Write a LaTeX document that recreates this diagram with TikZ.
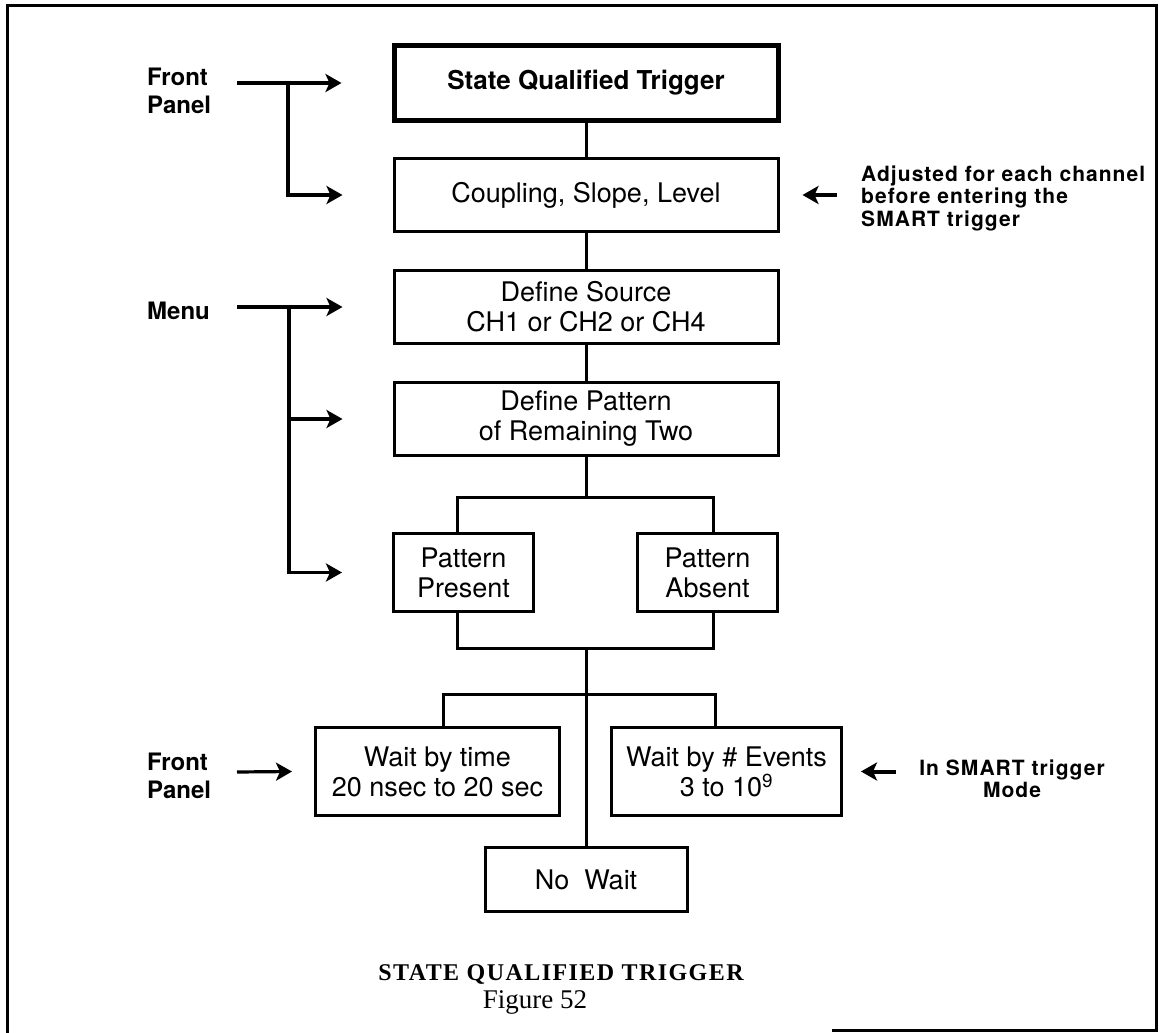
\documentclass[tikz,border=0pt]{standalone}
\usepackage{fontspec}
\setmainfont{TeX Gyre Heros}
\newfontfamily\capfont{Liberation Serif}
\usetikzlibrary{arrows.meta}

\begin{document}
\begin{tikzpicture}[x=1pt, y=-1pt,
    blk/.style={draw, line width=3pt, align=center, inner sep=0pt,
      font=\fontsize{27}{30}\selectfont},
    lbl/.style={align=left, inner sep=0pt, font=\bfseries\fontsize{24}{28}\selectfont},
    note/.style={inner sep=0pt, font=\bfseries\fontsize{21}{22.5}\selectfont\addfontfeature{LetterSpace=5}},
    wire/.style={line width=3pt},
    arr/.style={line width=3.2pt, -{Stealth[length=16pt,width=18pt,inset=4pt]}}]
  \useasboundingbox (0,0) rectangle (1163,1033);
  \draw[line width=3pt] (832,1030) -- (1156,1030) -- (1156,6) -- (7,6) -- (7,1033);

  \node[blk, line width=5pt, minimum width=384, minimum height=74,
    font=\bfseries\fontsize{26}{30}\selectfont] (sqt) at (586,83) {State Qualified Trigger};
  \node[blk, minimum width=384, minimum height=73] (cpl) at (586,195) {Coupling, Slope, Level};
  \node[blk, minimum width=384, minimum height=73] (src) at (586,307) {Define Source\\CH1 or CH2 or CH4};
  \node[blk, minimum width=384, minimum height=73] (pat) at (586,419) {Define Pattern\\of Remaining Two};
  \node[blk, minimum width=140, minimum height=78] (pp) at (463.5,572.5) {Pattern\\Present};
  \node[blk, minimum width=140, minimum height=78] (pa) at (707.5,572.5) {Pattern\\Absent};
  \node[blk, minimum width=244, minimum height=88] (wt) at (437.5,771.5) {Wait by time\\20 nsec to 20 sec};
  \node[blk, minimum width=230, minimum height=88] (we) at (726.5,771.5) {Wait by \# Events\\3 to 10\textsuperscript{9}};
  \node[blk, minimum width=202, minimum height=64] (nw) at (586,879.5) {No\ \ Wait};

  \coordinate (fa) at (457,497);
  \coordinate (fb) at (713,497);
  \coordinate (ja) at (457,648);
  \coordinate (jb) at (713,648);
  \coordinate (ga) at (443,694);
  \coordinate (gb) at (715,694);
  \draw[wire] (sqt) -- (cpl);
  \draw[wire] (cpl) -- (src);
  \draw[wire] (src) -- (pat);
  \draw[wire] (pat) -- (pat |- fa);
  \draw[wire] (pp.north -| fa) -- (fa) -- (fb) -- (pa.north -| fb);
  \draw[wire] (pp.south -| ja) -- (ja) -- (jb) -- (pa.south -| jb);
  \draw[wire] (pat |- ja) -- (nw);
  \draw[wire] (wt.north -| ga) -- (ga) -- (gb) -- (we.north -| gb);

  \node[lbl, anchor=west] (fp1) at (147,91) {Front\\Panel};
  \node[lbl, anchor=west] (menu) at (147,311) {Menu};
  \node[lbl, anchor=west] (fp2) at (147,776) {Front\\Panel};
  \coordinate (fp1o) at (237,83);
  \coordinate (fp1b) at (288,83);
  \coordinate (mnuo) at (237,307);
  \coordinate (mnub) at (289,307);
  \coordinate (fp2o) at (237,772);
  \draw[arr] (fp1o) -- ([xshift=-50pt]sqt.west);
  \draw[arr] (fp1b) |- ([xshift=-50pt]cpl.west);
  \draw[arr] (mnuo) -- ([xshift=-50pt]src.west);
  \draw[arr] (mnub) |- ([xshift=-50pt]pat.west);
  \draw[arr] (mnub) |- ([xshift=-50pt]pp.west);
  \draw[arr] (fp2o) -- ([xshift=-22pt]wt.west);

  \node[note, anchor=west, align=left] (adj) at (861,198)
    {Adjusted for each channel\\before entering the\\SMART trigger};
  \node[note, align=center] (smt) at (1012,779) {In SMART trigger\\Mode};
  \coordinate (adjo) at (837,195);
  \coordinate (smto) at (896,771.5);
  \draw[arr, line width=4pt] (adjo) -- ([xshift=23pt]cpl.east);
  \draw[arr, line width=4pt] (smto) -- ([xshift=18pt]we.east);

  \node[anchor=base, font=\capfont\bfseries\fontsize{24}{28}\selectfont\addfontfeature{LetterSpace=6}]
    (cap) at (561,980) {STATE QUALIFIED TRIGGER};
  \node[anchor=base, font=\capfont\fontsize{27}{30}\selectfont] (fig) at (535,1008) {Figure 52};
\end{tikzpicture}
\end{document}
